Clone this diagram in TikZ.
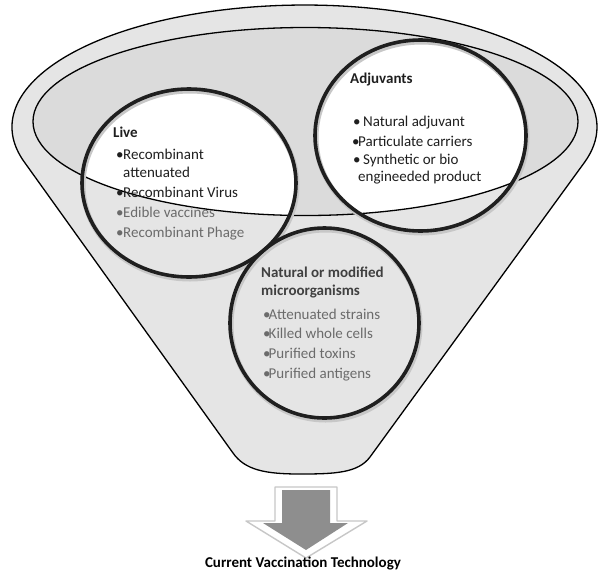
\documentclass[tikz,border=0pt]{standalone}
\usepackage{fontspec}
\setmainfont{Carlito}
\definecolor{funnelgray}{HTML}{E5E5E5}
\definecolor{innergray}{HTML}{DBDBDB}
\definecolor{arrowgray}{HTML}{8E8E8E}
\begin{document}
\begin{tikzpicture}[x=1pt,y=-1pt,
  funnelline/.style={draw=black, line width=1.3pt},
  ringline/.style={line width=3.6pt, draw=black!88},
  ringshadow/.style={line width=5pt, draw=black!22},
  txt/.style={anchor=base west, inner sep=0pt, font=\fontsize{15}{18}\selectfont},
  ttl/.style={anchor=base west, inner sep=0pt, font=\fontsize{15}{18}\selectfont\bfseries},
  dark/.style={text=black!88}, mid/.style={text=black!75}, light/.style={text=black!58}]
\useasboundingbox (0,0) rectangle (600,574);
\fill[white] (0,0) rectangle (600,574);

% funnel body
\path[fill=funnelgray, funnelline] (24.3,162)
  arc[start angle=163.35, end angle=376.89, x radius=292.5, y radius=122]
  -- (370,457) .. controls (358,473) and (335,474) .. (300,474)
  .. controls (265,474) and (245,470) .. (233,453) -- cycle;

% inner ellipse fill
\fill[innergray] (305.5,121.5) ellipse[x radius=272.5, y radius=94];
\begin{scope}
  \clip (305.5,121.5) ellipse[x radius=272.5, y radius=94];
  \fill[white] (189,183) ellipse[x radius=107, y radius=94];
  \fill[white] (420.5,135.5) ellipse[x radius=105.5, y radius=95.5];
\end{scope}
\fill[funnelgray] (324.5,323) ellipse[x radius=94.5, y radius=95];
\draw[funnelline] (305.5,121.5) ellipse[x radius=272.5, y radius=94];

% circle shadows
\draw[ringshadow] (190,185) ellipse[x radius=107, y radius=94];
\draw[ringshadow] (421.5,137.5) ellipse[x radius=105.5, y radius=95.5];
\draw[ringshadow] (325.5,325) ellipse[x radius=94.5, y radius=95];
% circle borders
\draw[ringline] (189,183) ellipse[x radius=107, y radius=94];
\draw[ringline] (420.5,135.5) ellipse[x radius=105.5, y radius=95.5];
\draw[ringline] (324.5,323) ellipse[x radius=94.5, y radius=95];

% Live
\node[ttl, dark] (liveT) at (113,137) {Live};
\node[txt, dark] (live1) at (116,159) {\makebox[7pt][l]{•}Recombinant};
\node[txt, dark] (live1b) at (123,177) {attenuated};
\node[txt, dark] (live2) at (116,197) {\makebox[7pt][l]{•}Recombinant Virus};
\node[txt, light] (live3) at (116,217) {\makebox[7pt][l]{•}Edible vaccines};
\node[txt, light] (live4) at (116,237) {\makebox[7pt][l]{•}Recombinant Phage};

% Adjuvants
\node[ttl, dark] (adjT) at (350,83) {Adjuvants};
\node[txt, dark] (adj1) at (353,126) {\makebox[10pt][l]{•}Natural adjuvant};
\node[txt, dark] (adj2) at (352,146) {\makebox[6pt][l]{•}Particulate carriers};
\node[txt, dark] (adj3) at (353,164) {\makebox[10pt][l]{•}Synthetic or bio};
\node[txt, dark] (adj3b) at (358,181) {engineeded product};

% Natural or modified
\node[ttl, mid] (natT) at (261,277) {Natural or modified};
\node[ttl, mid] (natT2) at (261,295) {microorganisms};
\node[txt, light] (nat1) at (263,319) {\makebox[5.5pt][l]{•}Attenuated strains};
\node[txt, light] (nat2) at (263,338) {\makebox[5.5pt][l]{•}Killed whole cells};
\node[txt, light] (nat3) at (263,358) {\makebox[5.5pt][l]{•}Purified toxins};
\node[txt, light] (nat4) at (263,378) {\makebox[5.5pt][l]{•}Purified antigens};

% arrow with halo
\path[fill=white, draw=black!22, line width=1.4pt, line join=round]
  (275,487) -- (337,487) -- (337,521) -- (367,521) -- (306,558) -- (246,521) -- (275,521) -- cycle;
\fill[arrowgray] (282,490) -- (330,490) -- (330,523) -- (348,523) -- (306,550) -- (263,523) -- (282,523) -- cycle;

\node[ttl, anchor=base, text=black] (caption) at (303,567) {Current Vaccination Technology};
\end{tikzpicture}
\end{document}
